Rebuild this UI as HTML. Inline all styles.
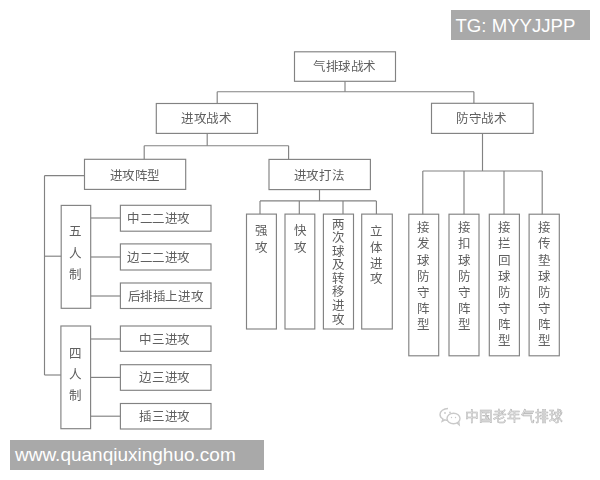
<!DOCTYPE html>
<html lang="zh-CN"><head><meta charset="utf-8"><style>
html,body{margin:0;padding:0;background:#fff;width:600px;height:480px;overflow:hidden;position:relative}
svg.g{position:absolute;left:0;top:0}
.tx{position:absolute;width:200px;height:20px;line-height:20px;text-align:center;color:#606060;font-family:"Liberation Serif",serif;white-space:nowrap}
.wm{position:absolute;background:#a9a9a9;color:#fff;font-family:"Liberation Sans",sans-serif;white-space:nowrap}
.wc{position:absolute;font-family:"Liberation Sans",sans-serif;color:#f0f0f0;-webkit-text-stroke:0.5px #b0b0b0;font-size:13.6px;white-space:nowrap}
#w{position:absolute;left:0;top:0;width:600px;height:480px;filter:blur(0.3px)}
</style></head><body><div id="w">
<svg class="g" width="600" height="480" viewBox="0 0 600 480"><g fill="none" stroke="#828282" stroke-width="1.15">
<rect x="294.5" y="51.8" width="101.00" height="29.50"/>
<rect x="156.3" y="103.5" width="101.20" height="29.90"/>
<rect x="431.5" y="103.3" width="101.70" height="30.10"/>
<rect x="84.5" y="159.3" width="101.20" height="30.10"/>
<rect x="269" y="159.4" width="101.40" height="30.20"/>
<rect x="61.2" y="205.4" width="29.50" height="102.90"/>
<rect x="60.9" y="326" width="29.70" height="102.70"/>
<rect x="120.4" y="205.3" width="90.60" height="25.90"/>
<rect x="120.4" y="243.9" width="90.60" height="26.10"/>
<rect x="120.4" y="283" width="90.60" height="25.50"/>
<rect x="120.4" y="326" width="90.60" height="25.30"/>
<rect x="120.4" y="364.7" width="90.60" height="25.60"/>
<rect x="120.4" y="403.5" width="90.60" height="25.50"/>
<rect x="246.5" y="214.1" width="29.90" height="114.90"/>
<rect x="285" y="214.1" width="29.80" height="114.90"/>
<rect x="323.4" y="214.1" width="30.10" height="114.90"/>
<rect x="361.7" y="214.1" width="30.60" height="114.90"/>
<rect x="408.8" y="214.2" width="29.90" height="141.60"/>
<rect x="449" y="214.2" width="30.00" height="141.60"/>
<rect x="489.3" y="214.2" width="30.10" height="141.60"/>
<rect x="529.1" y="214.2" width="30.20" height="141.60"/>
<path d="M345 81.3V91.7"/>
<path d="M217.2 91.7H474"/>
<path d="M217.2 91.7V103.5"/>
<path d="M473.9 91.7V103.3"/>
<path d="M207.2 133.4V145.75"/>
<path d="M144.2 145.75H288.6"/>
<path d="M144.2 145.75V159.3"/>
<path d="M288.6 145.75V159.4"/>
<path d="M44.5 175.6H84.5"/>
<path d="M44.5 175.6V375"/>
<path d="M44.5 256.2H61.2"/>
<path d="M44.5 375H60.9"/>
<path d="M90.7 218H120.4"/>
<path d="M90.7 257H120.4"/>
<path d="M90.7 296H120.4"/>
<path d="M90.6 339H120.4"/>
<path d="M90.6 377.4H120.4"/>
<path d="M90.6 416.2H120.4"/>
<path d="M319.5 189.6V200.9"/>
<path d="M260 200.9H376.4"/>
<path d="M260 200.9V214.1"/>
<path d="M299.3 200.9V214.1"/>
<path d="M343 200.9V214.1"/>
<path d="M376.4 200.9V214.1"/>
<path d="M482.5 133.4V171"/>
<path d="M422.8 171H542.2"/>
<path d="M422.8 171V214.2"/>
<path d="M464 171V214.2"/>
<path d="M504 171V214.2"/>
<path d="M542.2 171V214.2"/>
</g></svg>
<div class="tx" style="left:244.70px;top:57.15px;font-size:12.5px;letter-spacing:-0.4px;text-indent:-0.4px">气排球战术</div>
<div class="tx" style="left:106.70px;top:109.15px;font-size:12.5px;letter-spacing:-0.4px;text-indent:-0.4px">进攻战术</div>
<div class="tx" style="left:381.70px;top:109.15px;font-size:12.5px;letter-spacing:-0.4px;text-indent:-0.4px">防守战术</div>
<div class="tx" style="left:35.00px;top:165.55px;font-size:12.5px;letter-spacing:-0.4px;text-indent:-0.4px">进攻阵型</div>
<div class="tx" style="left:219.30px;top:165.55px;font-size:12.5px;letter-spacing:-0.4px;text-indent:-0.4px">进攻打法</div>
<div class="tx" style="left:-24.40px;top:222.25px;font-size:12.5px;letter-spacing:0px;text-indent:0px">五</div>
<div class="tx" style="left:-24.40px;top:243.75px;font-size:12.5px;letter-spacing:0px;text-indent:0px">人</div>
<div class="tx" style="left:-24.40px;top:265.25px;font-size:12.5px;letter-spacing:0px;text-indent:0px">制</div>
<div class="tx" style="left:-24.40px;top:344.25px;font-size:12.5px;letter-spacing:0px;text-indent:0px">四</div>
<div class="tx" style="left:-24.40px;top:365.15px;font-size:12.5px;letter-spacing:0px;text-indent:0px">人</div>
<div class="tx" style="left:-24.40px;top:386.05px;font-size:12.5px;letter-spacing:0px;text-indent:0px">制</div>
<div class="tx" style="left:58.70px;top:209.35px;font-size:12.5px;letter-spacing:-0.4px;text-indent:-0.4px">中二二进攻</div>
<div class="tx" style="left:58.70px;top:248.15px;font-size:12.5px;letter-spacing:-0.4px;text-indent:-0.4px">边二二进攻</div>
<div class="tx" style="left:65.70px;top:286.85px;font-size:12.5px;letter-spacing:-0.4px;text-indent:-0.4px">后排插上进攻</div>
<div class="tx" style="left:64.90px;top:330.05px;font-size:12.5px;letter-spacing:-0.4px;text-indent:-0.4px">中三进攻</div>
<div class="tx" style="left:64.90px;top:368.45px;font-size:12.5px;letter-spacing:-0.4px;text-indent:-0.4px">边三进攻</div>
<div class="tx" style="left:64.90px;top:406.85px;font-size:12.5px;letter-spacing:-0.4px;text-indent:-0.4px">插三进攻</div>
<div class="tx" style="left:161.50px;top:221.45px;font-size:12.5px;letter-spacing:0px;text-indent:0px">强</div>
<div class="tx" style="left:161.50px;top:238.05px;font-size:12.5px;letter-spacing:0px;text-indent:0px">攻</div>
<div class="tx" style="left:200.00px;top:221.45px;font-size:12.5px;letter-spacing:0px;text-indent:0px">快</div>
<div class="tx" style="left:200.00px;top:238.05px;font-size:12.5px;letter-spacing:0px;text-indent:0px">攻</div>
<div class="tx" style="left:238.50px;top:214.60px;font-size:12.5px;letter-spacing:0px;text-indent:0px">两</div>
<div class="tx" style="left:238.50px;top:228.17px;font-size:12.5px;letter-spacing:0px;text-indent:0px">次</div>
<div class="tx" style="left:238.50px;top:241.74px;font-size:12.5px;letter-spacing:0px;text-indent:0px">球</div>
<div class="tx" style="left:238.50px;top:255.31px;font-size:12.5px;letter-spacing:0px;text-indent:0px">及</div>
<div class="tx" style="left:238.50px;top:268.88px;font-size:12.5px;letter-spacing:0px;text-indent:0px">转</div>
<div class="tx" style="left:238.50px;top:282.45px;font-size:12.5px;letter-spacing:0px;text-indent:0px">移</div>
<div class="tx" style="left:238.50px;top:296.02px;font-size:12.5px;letter-spacing:0px;text-indent:0px">进</div>
<div class="tx" style="left:238.50px;top:309.59px;font-size:12.5px;letter-spacing:0px;text-indent:0px">攻</div>
<div class="tx" style="left:276.80px;top:222.15px;font-size:12.5px;letter-spacing:0px;text-indent:0px">立</div>
<div class="tx" style="left:276.80px;top:237.85px;font-size:12.5px;letter-spacing:0px;text-indent:0px">体</div>
<div class="tx" style="left:276.80px;top:253.55px;font-size:12.5px;letter-spacing:0px;text-indent:0px">进</div>
<div class="tx" style="left:276.80px;top:269.25px;font-size:12.5px;letter-spacing:0px;text-indent:0px">攻</div>
<div class="tx" style="left:323.75px;top:218.35px;font-size:12.5px;letter-spacing:0px;text-indent:0px">接</div>
<div class="tx" style="left:323.75px;top:234.45px;font-size:12.5px;letter-spacing:0px;text-indent:0px">发</div>
<div class="tx" style="left:323.75px;top:250.55px;font-size:12.5px;letter-spacing:0px;text-indent:0px">球</div>
<div class="tx" style="left:323.75px;top:266.65px;font-size:12.5px;letter-spacing:0px;text-indent:0px">防</div>
<div class="tx" style="left:323.75px;top:282.75px;font-size:12.5px;letter-spacing:0px;text-indent:0px">守</div>
<div class="tx" style="left:323.75px;top:298.85px;font-size:12.5px;letter-spacing:0px;text-indent:0px">阵</div>
<div class="tx" style="left:323.75px;top:314.95px;font-size:12.5px;letter-spacing:0px;text-indent:0px">型</div>
<div class="tx" style="left:364.00px;top:218.35px;font-size:12.5px;letter-spacing:0px;text-indent:0px">接</div>
<div class="tx" style="left:364.00px;top:234.45px;font-size:12.5px;letter-spacing:0px;text-indent:0px">扣</div>
<div class="tx" style="left:364.00px;top:250.55px;font-size:12.5px;letter-spacing:0px;text-indent:0px">球</div>
<div class="tx" style="left:364.00px;top:266.65px;font-size:12.5px;letter-spacing:0px;text-indent:0px">防</div>
<div class="tx" style="left:364.00px;top:282.75px;font-size:12.5px;letter-spacing:0px;text-indent:0px">守</div>
<div class="tx" style="left:364.00px;top:298.85px;font-size:12.5px;letter-spacing:0px;text-indent:0px">阵</div>
<div class="tx" style="left:364.00px;top:314.95px;font-size:12.5px;letter-spacing:0px;text-indent:0px">型</div>
<div class="tx" style="left:404.35px;top:218.35px;font-size:12.5px;letter-spacing:0px;text-indent:0px">接</div>
<div class="tx" style="left:404.35px;top:234.45px;font-size:12.5px;letter-spacing:0px;text-indent:0px">拦</div>
<div class="tx" style="left:404.35px;top:250.55px;font-size:12.5px;letter-spacing:0px;text-indent:0px">回</div>
<div class="tx" style="left:404.35px;top:266.65px;font-size:12.5px;letter-spacing:0px;text-indent:0px">球</div>
<div class="tx" style="left:404.35px;top:282.75px;font-size:12.5px;letter-spacing:0px;text-indent:0px">防</div>
<div class="tx" style="left:404.35px;top:298.85px;font-size:12.5px;letter-spacing:0px;text-indent:0px">守</div>
<div class="tx" style="left:404.35px;top:314.95px;font-size:12.5px;letter-spacing:0px;text-indent:0px">阵</div>
<div class="tx" style="left:404.35px;top:331.05px;font-size:12.5px;letter-spacing:0px;text-indent:0px">型</div>
<div class="tx" style="left:444.20px;top:218.35px;font-size:12.5px;letter-spacing:0px;text-indent:0px">接</div>
<div class="tx" style="left:444.20px;top:234.45px;font-size:12.5px;letter-spacing:0px;text-indent:0px">传</div>
<div class="tx" style="left:444.20px;top:250.55px;font-size:12.5px;letter-spacing:0px;text-indent:0px">垫</div>
<div class="tx" style="left:444.20px;top:266.65px;font-size:12.5px;letter-spacing:0px;text-indent:0px">球</div>
<div class="tx" style="left:444.20px;top:282.75px;font-size:12.5px;letter-spacing:0px;text-indent:0px">防</div>
<div class="tx" style="left:444.20px;top:298.85px;font-size:12.5px;letter-spacing:0px;text-indent:0px">守</div>
<div class="tx" style="left:444.20px;top:314.95px;font-size:12.5px;letter-spacing:0px;text-indent:0px">阵</div>
<div class="tx" style="left:444.20px;top:331.05px;font-size:12.5px;letter-spacing:0px;text-indent:0px">型</div>
<div class="wm" style="left:451px;top:10px;width:139px;height:30px;font-size:18.6px;line-height:32px;text-indent:4.5px">TG: MYYJJPP</div>
<div class="wm" style="left:10px;top:440px;width:254px;height:30px;font-size:19px;line-height:30px;text-indent:5px">www.quanqiuxinghuo.com</div>
<div class="wc" style="left:465px;top:408px;line-height:18px">中国老年气排球</div>
<svg style="position:absolute;left:438px;top:405px" width="26" height="22" viewBox="0 0 26 22">
<path d="M10 3.5c-4.4 0-8 2.6-8 5.9 0 1.900 1.200 3.500 3 4.600l-.8 2.2 2.7-1.4c1 .3 2 .5 3.1.5" fill="none" stroke="#c9c9c9" stroke-width="1.4"/>
<ellipse cx="15.5" cy="13.5" rx="6.5" ry="5.2" fill="#fff" stroke="#c9c9c9" stroke-width="1.4"/>
<path d="M19 18l2.3 2-0.4-3" fill="none" stroke="#c9c9c9" stroke-width="1.2"/>
<circle cx="7" cy="8" r=".9" fill="#c9c9c9"/><circle cx="12" cy="7.5" r=".9" fill="#c9c9c9"/>
<circle cx="13.5" cy="12.5" r=".7" fill="#c9c9c9"/><circle cx="17.5" cy="12.5" r=".7" fill="#c9c9c9"/>
</svg>
</div></body></html>
